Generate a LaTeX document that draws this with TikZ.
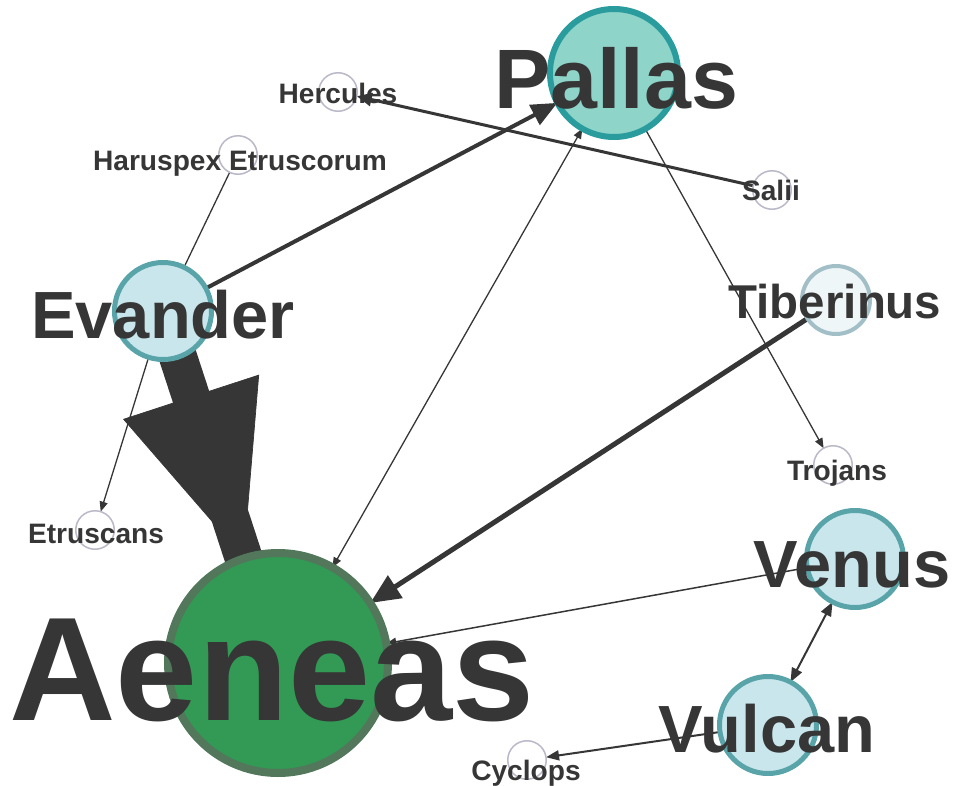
\documentclass[tikz,border=0pt]{standalone}
\usepackage{fontspec}
\setmainfont{Liberation Sans}
\usetikzlibrary{arrows.meta,backgrounds}

\definecolor{ink}{HTML}{363636}
\definecolor{hubfill}{HTML}{329A55}
\definecolor{hubrim}{HTML}{52775A}
\definecolor{tealfill}{HTML}{8ED4C8}
\definecolor{tealrim}{HTML}{2A9C9E}
\definecolor{palefill}{HTML}{C9E6EC}
\definecolor{palerim}{HTML}{58A4A9}
\definecolor{faintfill}{HTML}{EFF6F8}
\definecolor{faintrim}{HTML}{A2BEC6}
\definecolor{leafrim}{HTML}{B9B9C9}

\begin{document}
\begin{tikzpicture}[
	x=0.2mm, y=-0.2mm, % one unit = one pixel of the layout, y downwards
	every node/.style={circle, inner sep=0pt, outer sep=0pt},
	hub/.style={fill=hubfill, draw=hubrim, line width=1.6mm, minimum size=44mm},
	big/.style={fill=tealfill, draw=tealrim, line width=1.2mm, minimum size=25.6mm},
	mid/.style={fill=palefill, draw=palerim, line width=1mm, minimum size=19.4mm},
	low/.style={fill=faintfill, draw=faintrim, line width=0.8mm, minimum size=13.6mm},
	leaf/.style={fill=white, draw=leafrim, line width=0.3mm, minimum size=7.7mm},
	word/.style={rectangle, anchor=base, text=ink, font=\fontsize{#1}{#1}\selectfont\bfseries},
	thin/.style={ink, line width=0.26mm},
	small tip/.style={-{Triangle[length=2mm, width=1.6mm]}},
]
\useasboundingbox (0,0) rectangle (956,786);

% nodes, sized by degree
\node[hub]  (aeneas)    at (278,663) {};
\node[big]  (pallas)    at (614,73)  {};
\node[mid]  (evander)   at (163,311) {};
\node[mid]  (venus)     at (855,559) {};
\node[mid]  (vulcan)    at (768,725) {};
\node[low]  (tiberinus) at (836,300) {};
\node[leaf] (hercules)  at (338,92)  {};
\node[leaf] (haruspex)  at (238,155) {};
\node[leaf] (salii)     at (772,190) {};
\node[leaf] (trojans)   at (833,465) {};
\node[leaf] (etruscans) at (95,530)  {};
\node[leaf] (cyclops)   at (527,760) {};

% edges go underneath
\begin{pgfonlayer}{background}
	% heavy edge: shaft centre to centre, head ends at the rim
	\draw[ink, line width=7.6mm] (evander.center) -- (aeneas.center);
	\draw[ink, -{Triangle[length=34mm, width=28.6mm]}] (evander) -- (aeneas);
	\draw[ink, line width=0.8mm, -{Triangle[length=5.2mm, width=4.4mm]}] (evander) -- (pallas);
	\draw[ink, line width=1mm, -{Triangle[length=6mm, width=5.2mm]}] (tiberinus) -- (aeneas);
	\draw[ink, line width=0.6mm, -{Triangle[length=3mm, width=2.6mm]}] (salii) -- (hercules);
	\draw[ink, line width=0.4mm, {Triangle[length=2.8mm, width=2.2mm]}-{Triangle[length=2.8mm, width=2.2mm]}] (venus) -- (vulcan);
	\draw[ink, line width=0.4mm, -{Triangle[length=2.6mm, width=2mm]}] (vulcan) -- (cyclops);
	\draw[thin] (haruspex) -- (evander);
	\draw[thin, small tip] (evander) -- (etruscans);
	\draw[thin, small tip] (pallas) -- (trojans);
	\draw[thin, {Triangle[length=2mm, width=1.6mm]}-{Triangle[length=2mm, width=1.6mm]}] (aeneas) -- (pallas);
	\draw[thin, line width=0.3mm, small tip] (venus) -- (aeneas);
\end{pgfonlayer}

% labels on top
\node[word=84] (aeneas-t)    at (272,720) {Aeneas};
\node[word=48] (pallas-t)    at (616,108) {Pallas};
\node[word=38] (evander-t)   at (163,338) {Evander};
\node[word=38] (venus-t)     at (852,587) {Venus};
\node[word=38] (vulcan-t)    at (767,752) {Vulcan};
\node[word=27] (tiberinus-t) at (835,318) {Tiberinus};
\node[word=16] (hercules-t)  at (338,103) {Hercules};
\node[word=16] (haruspex-t)  at (240,170) {Haruspex Etruscorum};
\node[word=16] (salii-t)     at (771,200) {Salii};
\node[word=16] (trojans-t)   at (837,480) {Trojans};
\node[word=16] (etruscans-t) at (96,543)  {Etruscans};
\node[word=16] (cyclops-t)   at (526,780) {Cyclops};
\end{tikzpicture}
\end{document}
